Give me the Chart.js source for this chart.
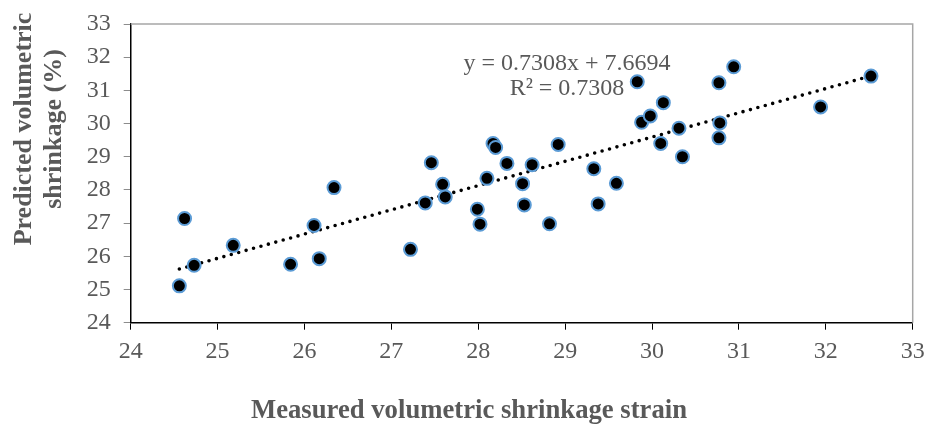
<!DOCTYPE html>
<html>
<head>
<meta charset="utf-8">
<script src="https://cdn.jsdelivr.net/npm/chart.js@4"></script>
<style>
  html, body { margin: 0; padding: 0; background: #fff; }
  #wrap { width: 927px; height: 426px; position: relative; }
</style>
</head>
<body>
<div id="wrap"><canvas id="shrinkage"></canvas></div>
<script>
// measured vs predicted volumetric shrinkage
var measured = [24.56, 24.62, 24.73, 25.18, 25.84, 26.11, 26.17, 26.34, 27.22, 27.39,
  27.46, 27.59, 27.62, 27.99, 28.02, 28.10, 28.17, 28.20, 28.33, 28.51,
  28.53, 28.62, 28.82, 28.92, 29.33, 29.38, 29.59, 29.83, 29.88, 29.98,
  30.10, 30.13, 30.31, 30.35, 30.77, 30.78, 30.77, 30.94, 31.94, 32.52];
var predicted = [25.11, 27.14, 25.73, 26.33, 25.76, 26.93, 25.93, 28.07, 26.21, 27.61,
  28.82, 28.17, 27.79, 27.42, 26.97, 28.35, 29.40, 29.28, 28.80, 28.19,
  27.55, 28.76, 26.98, 29.37, 28.64, 27.58, 28.20, 31.26, 30.04, 30.23,
  29.40, 30.63, 29.86, 29.00, 31.23, 30.02, 29.57, 31.71, 30.50, 31.43];

// trendline (from the chart label)
var slope = 0.7308;
var intercept = 7.6694;
var trendX = [24.56, 32.52];
var equationLines = ["y = 0.7308x + 7.6694", "R\u00b2 = 0.7308"];

var tickValues = [24, 25, 26, 27, 28, 29, 30, 31, 32, 33];
var xTitle = "Measured volumetric shrinkage strain";
var yTitle = ["Predicted volumetric", "shrinkage (%)"];

var points = measured.map(function (m, i) { return { x: m, y: predicted[i] }; });
var trend = trendX.map(function (x) { return { x: x, y: slope * x + intercept }; });

var textGray = "#595959";
var serif = "'Liberation Serif', 'Times New Roman', serif";

// top/right frame, equation and axis titles
var extras = {
  id: "extras",
  beforeDatasetsDraw: function (chart) {
    var c = chart.ctx, a = chart.chartArea;
    c.save();
    c.strokeStyle = "#a6a6a6";
    c.lineWidth = 1.5;
    c.beginPath();
    c.moveTo(a.left, a.top);
    c.lineTo(a.right, a.top);
    c.lineTo(a.right, a.bottom);
    c.stroke();
    c.restore();
  },
  afterDraw: function (chart) {
    var c = chart.ctx;
    c.save();
    c.fillStyle = textGray;
    c.textAlign = "center";
    c.textBaseline = "alphabetic";
    c.font = "24px " + serif;
    c.fillText(equationLines[0], 567, 70);
    c.fillText(equationLines[1], 567, 95);

    c.font = "bold 26.7px " + serif;
    c.fillText(xTitle, 469, 418);

    c.font = "bold 26px " + serif;
    c.translate(0, 129);
    c.rotate(-Math.PI / 2);
    c.fillText(yTitle[0], 0, 31);
    c.fillText(yTitle[1], 0, 61);
    c.restore();
  }
};

var ctx = document.getElementById("shrinkage").getContext("2d");
var chart = new Chart(ctx, {
  type: "scatter",
  data: {
    datasets: [
      {
        label: "Predicted",
        data: points,
        backgroundColor: "#000000",
        borderColor: "#5b9bd5",
        borderWidth: 2,
        pointRadius: 6.5,
        pointHoverRadius: 6.5
      },
      {
        label: "Linear",
        type: "line",
        data: trend,
        borderColor: "#000000",
        borderWidth: 3.6,
        borderDash: [0, 7.7],
        borderCapStyle: "round",
        pointRadius: 0,
        fill: false
      }
    ]
  },
  options: {
    responsive: true,
    maintainAspectRatio: false,
    animation: false,
    layout: { padding: { left: 0, top: 24, right: 14.3, bottom: 0 } },
    plugins: {
      legend: { display: false },
      tooltip: { enabled: false }
    },
    scales: {
      x: {
        type: "linear",
        min: 24,
        max: 33,
        afterBuildTicks: function (s) { s.ticks = tickValues.map(function (v) { return { value: v }; }); },
        afterFit: function (s) {
          s.height = 103.3;
          s.paddingLeft = 0;
          s.paddingRight = 0;
        },
        grid: { drawOnChartArea: false, drawTicks: true, tickLength: 7, color: "#000000", lineWidth: 1 },
        border: { color: "#000000", width: 1.5 },
        ticks: { color: textGray, font: { family: serif, size: 24 }, padding: 8, maxRotation: 0 }
      },
      y: {
        type: "linear",
        min: 24,
        max: 33,
        afterBuildTicks: function (s) { s.ticks = tickValues.map(function (v) { return { value: v }; }); },
        afterFit: function (s) {
          s.width = 130.7;
          s.paddingTop = 0;
          s.paddingBottom = 0;
        },
        grid: { drawOnChartArea: false, drawTicks: true, tickLength: 7, color: "#8c8c8c", lineWidth: 1 },
        border: { color: "#000000", width: 1.5 },
        ticks: { color: textGray, font: { family: serif, size: 24 }, padding: 13 }
      }
    }
  },
  plugins: [extras]
});
</script>
</body>
</html>
